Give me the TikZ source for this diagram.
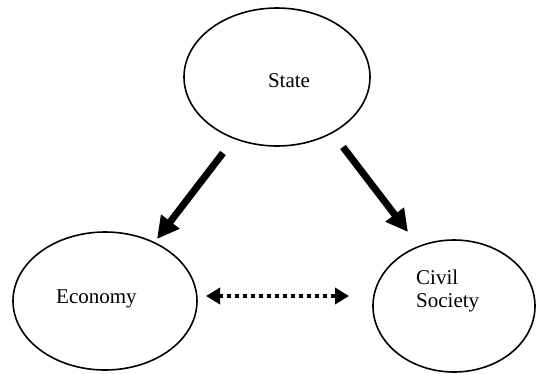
\documentclass[tikz,border=0pt]{standalone}
\usepackage{fontspec}
\setmainfont{Liberation Serif}
\usetikzlibrary{shapes.geometric,arrows.meta}

\tikzset{
  oval/.style={ellipse, draw, line width=1.6pt, inner sep=0pt},
  lbl/.style={inner sep=0pt, font=\fontsize{21}{23}\selectfont},
  bigarrow/.style={line width=7pt, -{Triangle[width=22pt,length=22pt]}},
  dotarrow/.style={line width=3.5pt, dash pattern=on 4pt off 4pt,
    {Triangle[width=16pt,length=14pt]}-{Triangle[width=16pt,length=14pt]}}
}

\begin{document}
\begin{tikzpicture}[x=1pt,y=-1pt]
        \useasboundingbox (0,0) rectangle (536,373);

        % the three ovals
        \node[oval, minimum width=186pt, minimum height=138pt] (st) at (277,77) {};
        \node[oval, minimum width=184pt, minimum height=138pt] (eco) at (105,301) {};
        \node[oval, minimum width=162pt, minimum height=132pt] (cs) at (454,306) {};

        % texts inside
        \node[lbl, anchor=base] (sttxt) at (289,87) {State};
        \node[lbl, anchor=base west] (ecotxt) at (56,303) {Economy};
        \node[lbl, anchor=north west, align=left] (cstxt) at (416,270) {Civil\\Society};

        % arrow ends
        \coordinate (s1) at (223,153);
        \coordinate (e1) at (157,239);
        \coordinate (s2) at (343,147);
        \coordinate (c2) at (408,232);
        \coordinate (e3) at (206,296);
        \coordinate (c3) at (349,296);

        % arrows
        \draw[bigarrow] (s1) -- (e1);
        \draw[bigarrow] (s2) -- (c2);
        \draw[dotarrow] (e3) -- (c3);
\end{tikzpicture}
\end{document}
